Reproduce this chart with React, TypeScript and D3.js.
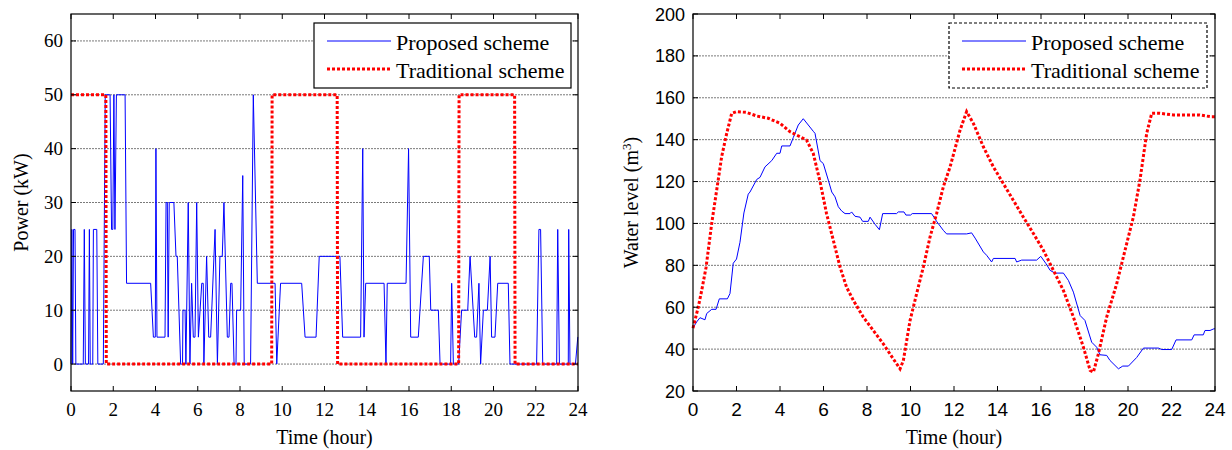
import * as d3 from "d3";
import { useEffect, useRef } from "react";

type Pt = [number, number];

// шкалы и подписи
const hourTicks = [0, 2, 4, 6, 8, 10, 12, 14, 16, 18, 20, 22, 24];
const powerTicks = [0, 10, 20, 30, 40, 50, 60];
const levelTicks = [20, 40, 60, 80, 100, 120, 140, 160, 180, 200];
const legendNames = ["Proposed scheme", "Traditional scheme"];

// мощность насоса, предлагаемая схема: [час, кВт]
const powerProposed: Pt[] = [
    [0, 0], [0.04, 25], [0.08, 0], [0.12, 25], [0.19, 25], [0.23, 0], [0.58, 0], [0.63, 25], [0.68, 0],
    [0.83, 0], [0.87, 25], [0.91, 0], [1.03, 0], [1.06, 25], [1.22, 25], [1.27, 0], [1.53, 0], [1.62, 50],
    [1.85, 50], [1.92, 25], [1.98, 25], [2.03, 50], [2.08, 25], [2.15, 50], [2.56, 50], [2.63, 15],
    [3.77, 15], [3.9, 5], [3.99, 5], [4.02, 40], [4.07, 5], [4.45, 5], [4.5, 30], [4.56, 30], [4.6, 5],
    [4.65, 30], [4.87, 30], [4.97, 20], [5.03, 20], [5.19, 0], [5.28, 0], [5.3, 10], [5.4, 10], [5.44, 0],
    [5.55, 30], [5.63, 0], [5.71, 15], [5.79, 5], [5.87, 5], [5.95, 30], [6.03, 5], [6.19, 15], [6.26, 15],
    [6.29, 0], [6.42, 20], [6.52, 5], [6.61, 5], [6.82, 25], [6.93, 0], [7.05, 20], [7.16, 20], [7.24, 30],
    [7.4, 5], [7.48, 5], [7.56, 15], [7.62, 15], [7.72, 0], [7.81, 0], [7.84, 10], [8.03, 10], [8.13, 35],
    [8.2, 0], [8.5, 0], [8.63, 50], [8.82, 15], [9.66, 15], [9.74, 0], [9.92, 15], [10.92, 15], [11.08, 5],
    [11.6, 5], [11.75, 20], [12.73, 20], [12.86, 5], [13.71, 5], [13.81, 40], [13.87, 5], [13.95, 15],
    [14.82, 15], [14.91, 0], [14.97, 15], [15.86, 15], [15.98, 40], [16.08, 5], [16.44, 5], [16.68, 20],
    [16.96, 20], [17.03, 10], [17.39, 10], [17.47, 0], [17.97, 0], [18.02, 15], [18.1, 0], [18.35, 0],
    [18.49, 10], [18.78, 10], [18.89, 20], [19.11, 5], [19.2, 5], [19.31, 15], [19.39, 0], [19.52, 10],
    [19.71, 10], [19.84, 20], [19.91, 5], [20.07, 5], [20.2, 15], [20.7, 15], [20.78, 0], [22.04, 0],
    [22.15, 25], [22.23, 25], [22.33, 0], [22.99, 0], [23.04, 25], [23.12, 0], [23.54, 0], [23.56, 25],
    [23.62, 0], [23.88, 0], [23.99, 5], [24, 5]
];

// мощность, традиционная схема
const powerTraditional: Pt[] = [
    [0, 50], [1.65, 50], [1.67, 0], [9.5, 0], [9.52, 50], [12.6, 50], [12.62, 0],
    [18.35, 0], [18.37, 50], [21.0, 50], [21.02, 0], [24, 0]
];

// уровень воды, предлагаемая схема: [час, м3]
const levelProposed: Pt[] = [
    [0, 50], [0.05, 51], [0.17, 53], [0.32, 55], [0.55, 54], [0.63, 57], [0.86, 59], [1.06, 59], [1.21, 64],
    [1.58, 64], [1.7, 66.5], [1.85, 81], [2.0, 83], [2.16, 91], [2.34, 105], [2.54, 114], [2.62, 115],
    [2.93, 121], [3.08, 122], [3.31, 127], [3.62, 130], [3.85, 133.5], [4.0, 133.5], [4.08, 137], [4.46, 137],
    [4.61, 141], [4.84, 147], [5.07, 150], [5.3, 147], [5.53, 144], [5.61, 143], [5.84, 130], [5.99, 128.6],
    [6.22, 120.7], [6.38, 115], [6.53, 112.7], [6.68, 108], [6.83, 106], [6.99, 104.7], [7.22, 104.7],
    [7.29, 105.5], [7.45, 103.4], [7.68, 103], [7.8, 101], [8.06, 101], [8.14, 103], [8.37, 99.6], [8.57, 97],
    [8.72, 104.7], [9.36, 104.7], [9.44, 105.5], [9.7, 105.5], [9.79, 104], [10.0, 104], [10.08, 104.7],
    [10.97, 104.7], [11.2, 101], [11.51, 96.7], [11.66, 95], [12.58, 95], [12.81, 95.5], [12.97, 93],
    [13.35, 86.4], [13.5, 84.8], [13.73, 81.6], [13.81, 83.3], [14.81, 83.3], [14.88, 81.6], [15.11, 82.5],
    [15.8, 82.5], [15.99, 84.3], [16.23, 80.8], [16.42, 77.6], [16.64, 76.3], [17.03, 76.3], [17.26, 72.8],
    [17.49, 67.2], [17.8, 56], [18.02, 53.7], [18.33, 43.3], [18.56, 40.9], [18.71, 37.3], [19.02, 37],
    [19.17, 34.6], [19.56, 30.6], [19.76, 31.9], [20.02, 31.9], [20.4, 36], [20.71, 40.5], [21.4, 40.5],
    [21.55, 39.8], [22.01, 39.8], [22.21, 44.4], [22.93, 44.4], [23.04, 46.8], [23.46, 46.8], [23.54, 48.9],
    [23.77, 48.9], [23.95, 49.7], [24, 49.7]
];

// уровень воды, традиционная схема
const levelTraditional: Pt[] = [
    [0, 50], [0.24, 60], [0.4, 68], [0.6, 79], [0.86, 100], [1.09, 116], [1.32, 132], [1.55, 143],
    [1.78, 152.6], [2.0, 153.4], [2.47, 153], [2.93, 151.3], [3.46, 150.2], [4.0, 147.8], [4.46, 143.8],
    [4.92, 141.4], [5.22, 139.8], [5.53, 133.4], [5.84, 120], [6.14, 104.7], [6.45, 92], [6.76, 79.2],
    [7.06, 69.6], [7.37, 63.3], [7.83, 55.3], [8.29, 48.9], [8.75, 42.5], [9.21, 35.3], [9.52, 30.6],
    [9.67, 34.5], [9.98, 53.7], [10.28, 66.4], [10.59, 79.2], [10.9, 93.6], [11.2, 104.7], [11.51, 117.5],
    [11.82, 127], [12.28, 144.6], [12.58, 153.4], [12.89, 147.8], [13.35, 136.6], [13.81, 127], [14.27, 119],
    [14.73, 111], [15.19, 103], [15.65, 95.2], [16.11, 87.2], [16.57, 77.6], [17.03, 68], [17.49, 55.3],
    [17.95, 40.9], [18.26, 29.8], [18.41, 29], [18.64, 37.8], [19.02, 55.3], [19.48, 71.2], [19.94, 90.4],
    [20.25, 103.2], [20.55, 120.7], [20.86, 143], [21.09, 152.6], [21.47, 152.6], [22.09, 151.8],
    [23.3, 151.8], [23.77, 151], [24, 151]
];

const SERIF = "'Liberation Serif', 'Times New Roman', serif";
const SANS = "'Liberation Sans', Arial, sans-serif";

const drawPanel = (svg: any, o: any) => {
    const x = d3.scaleLinear().domain([0, 24]).range([o.left, o.right]);
    const y = d3.scaleLinear().domain(o.yDomain).range([o.bottom, o.top]);
    const g = svg.append("g");
    const tk = 5;

    // сетка по оси Y
    g.selectAll(".grid").data(o.yTicks.filter((v: number) => v > o.yDomain[0] && v < o.yDomain[1]))
        .enter().append("line")
        .attr("x1", o.left).attr("x2", o.right)
        .attr("y1", (d: number) => y(d)).attr("y2", (d: number) => y(d))
        .attr("stroke", "#7a7a7a").attr("stroke-width", 1)
        .attr("stroke-dasharray", "2 1");

    // графики
    const line = d3.line<Pt>().x(d => x(d[0])).y(d => y(d[1]));
    g.append("path").attr("d", line(o.proposed))
        .attr("fill", "none").attr("stroke", "#0000ff").attr("stroke-width", 1);
    g.append("path").attr("d", line(o.traditional))
        .attr("fill", "none").attr("stroke", "#ff0000").attr("stroke-width", 3)
        .attr("stroke-dasharray", "3 2");

    // рамка
    g.append("rect").attr("x", o.left).attr("y", o.top)
        .attr("width", o.right - o.left).attr("height", o.bottom - o.top)
        .attr("fill", "none").attr("stroke", "#000").attr("stroke-width", 1.2);

    // засечки внутрь со всех сторон
    hourTicks.forEach(h => {
        g.append("line").attr("x1", x(h)).attr("x2", x(h)).attr("y1", o.bottom).attr("y2", o.bottom - tk).attr("stroke", "#000");
        g.append("line").attr("x1", x(h)).attr("x2", x(h)).attr("y1", o.top).attr("y2", o.top + tk).attr("stroke", "#000");
        g.append("text").attr("x", x(h)).attr("y", 416)
            .attr("text-anchor", "middle").attr("font-family", o.tickFont).attr("font-size", o.xTickSize)
            .text(h);
    });
    o.yTicks.forEach((v: number) => {
        g.append("line").attr("x1", o.left).attr("x2", o.left + tk).attr("y1", y(v)).attr("y2", y(v)).attr("stroke", "#000");
        g.append("line").attr("x1", o.right).attr("x2", o.right - tk).attr("y1", y(v)).attr("y2", y(v)).attr("stroke", "#000");
        g.append("text").attr("x", o.left - 8).attr("y", y(v) + 6.5)
            .attr("text-anchor", "end").attr("font-family", o.tickFont).attr("font-size", o.yTickSize)
            .text(v);
    });

    // подписи осей
    g.append("text").attr("x", (o.left + o.right) / 2).attr("y", 444)
        .attr("text-anchor", "middle").attr("font-family", SERIF).attr("font-size", 20)
        .text("Time (hour)");
    const yl = g.append("text")
        .attr("transform", `translate(${o.yLabelX}, ${(o.top + o.bottom) / 2}) rotate(-90)`)
        .attr("text-anchor", "middle").attr("font-family", SERIF).attr("font-size", 20);
    if (o.cubic) {
        yl.append("tspan").text("Water level (m");
        yl.append("tspan").attr("dy", -7).attr("font-size", 13).text("3");
        yl.append("tspan").attr("dy", 7).text(")");
    } else {
        yl.text(o.yLabel);
    }

    // легенда
    const L = o.legend;
    g.append("rect").attr("x", L.x).attr("y", L.y).attr("width", L.w).attr("height", L.h)
        .attr("fill", "#fff").attr("stroke", "#000").attr("stroke-width", 1.2)
        .attr("stroke-dasharray", L.dashed ? "3 2" : null);
    g.append("line").attr("x1", L.x + 13).attr("x2", L.x + 77).attr("y1", L.y + 18).attr("y2", L.y + 18)
        .attr("stroke", "#0000ff").attr("stroke-width", 1);
    g.append("line").attr("x1", L.x + 13).attr("x2", L.x + 77).attr("y1", L.y + 46).attr("y2", L.y + 46)
        .attr("stroke", "#ff0000").attr("stroke-width", 3).attr("stroke-dasharray", "3 2");
    legendNames.forEach((name, i) => {
        g.append("text").attr("x", L.x + 82).attr("y", L.y + 27 + i * 28)
            .attr("font-family", SERIF).attr("font-size", 22).text(name);
    });
};

const App = () => {
    const chartRef = useRef<SVGSVGElement>(null);

    useEffect(() => {
        const svg = d3.select(chartRef.current);
        svg.selectAll("*").remove();

        drawPanel(svg, {
            left: 71, right: 578, top: 14, bottom: 391,
            yDomain: [-5, 65], yTicks: powerTicks,
            proposed: powerProposed, traditional: powerTraditional,
            tickFont: SERIF, xTickSize: 19, yTickSize: 19,
            yLabel: "Power (kW)", yLabelX: 28,
            legend: { x: 314, y: 23, w: 257, h: 65, dashed: false }
        });
        drawPanel(svg, {
            left: 693, right: 1215, top: 14, bottom: 391,
            yDomain: [20, 200], yTicks: levelTicks,
            proposed: levelProposed, traditional: levelTraditional,
            tickFont: SANS, xTickSize: 19, yTickSize: 18,
            yLabel: "Water level (m3)", cubic: true, yLabelX: 638,
            legend: { x: 949, y: 23, w: 258, h: 65, dashed: true }
        });
    }, []);

    return (
        <svg ref={chartRef} width={1232} height={450}
            style={{ position: "absolute", left: 0, top: 0, background: "#fff" }}></svg>
    );
};

export default App;
